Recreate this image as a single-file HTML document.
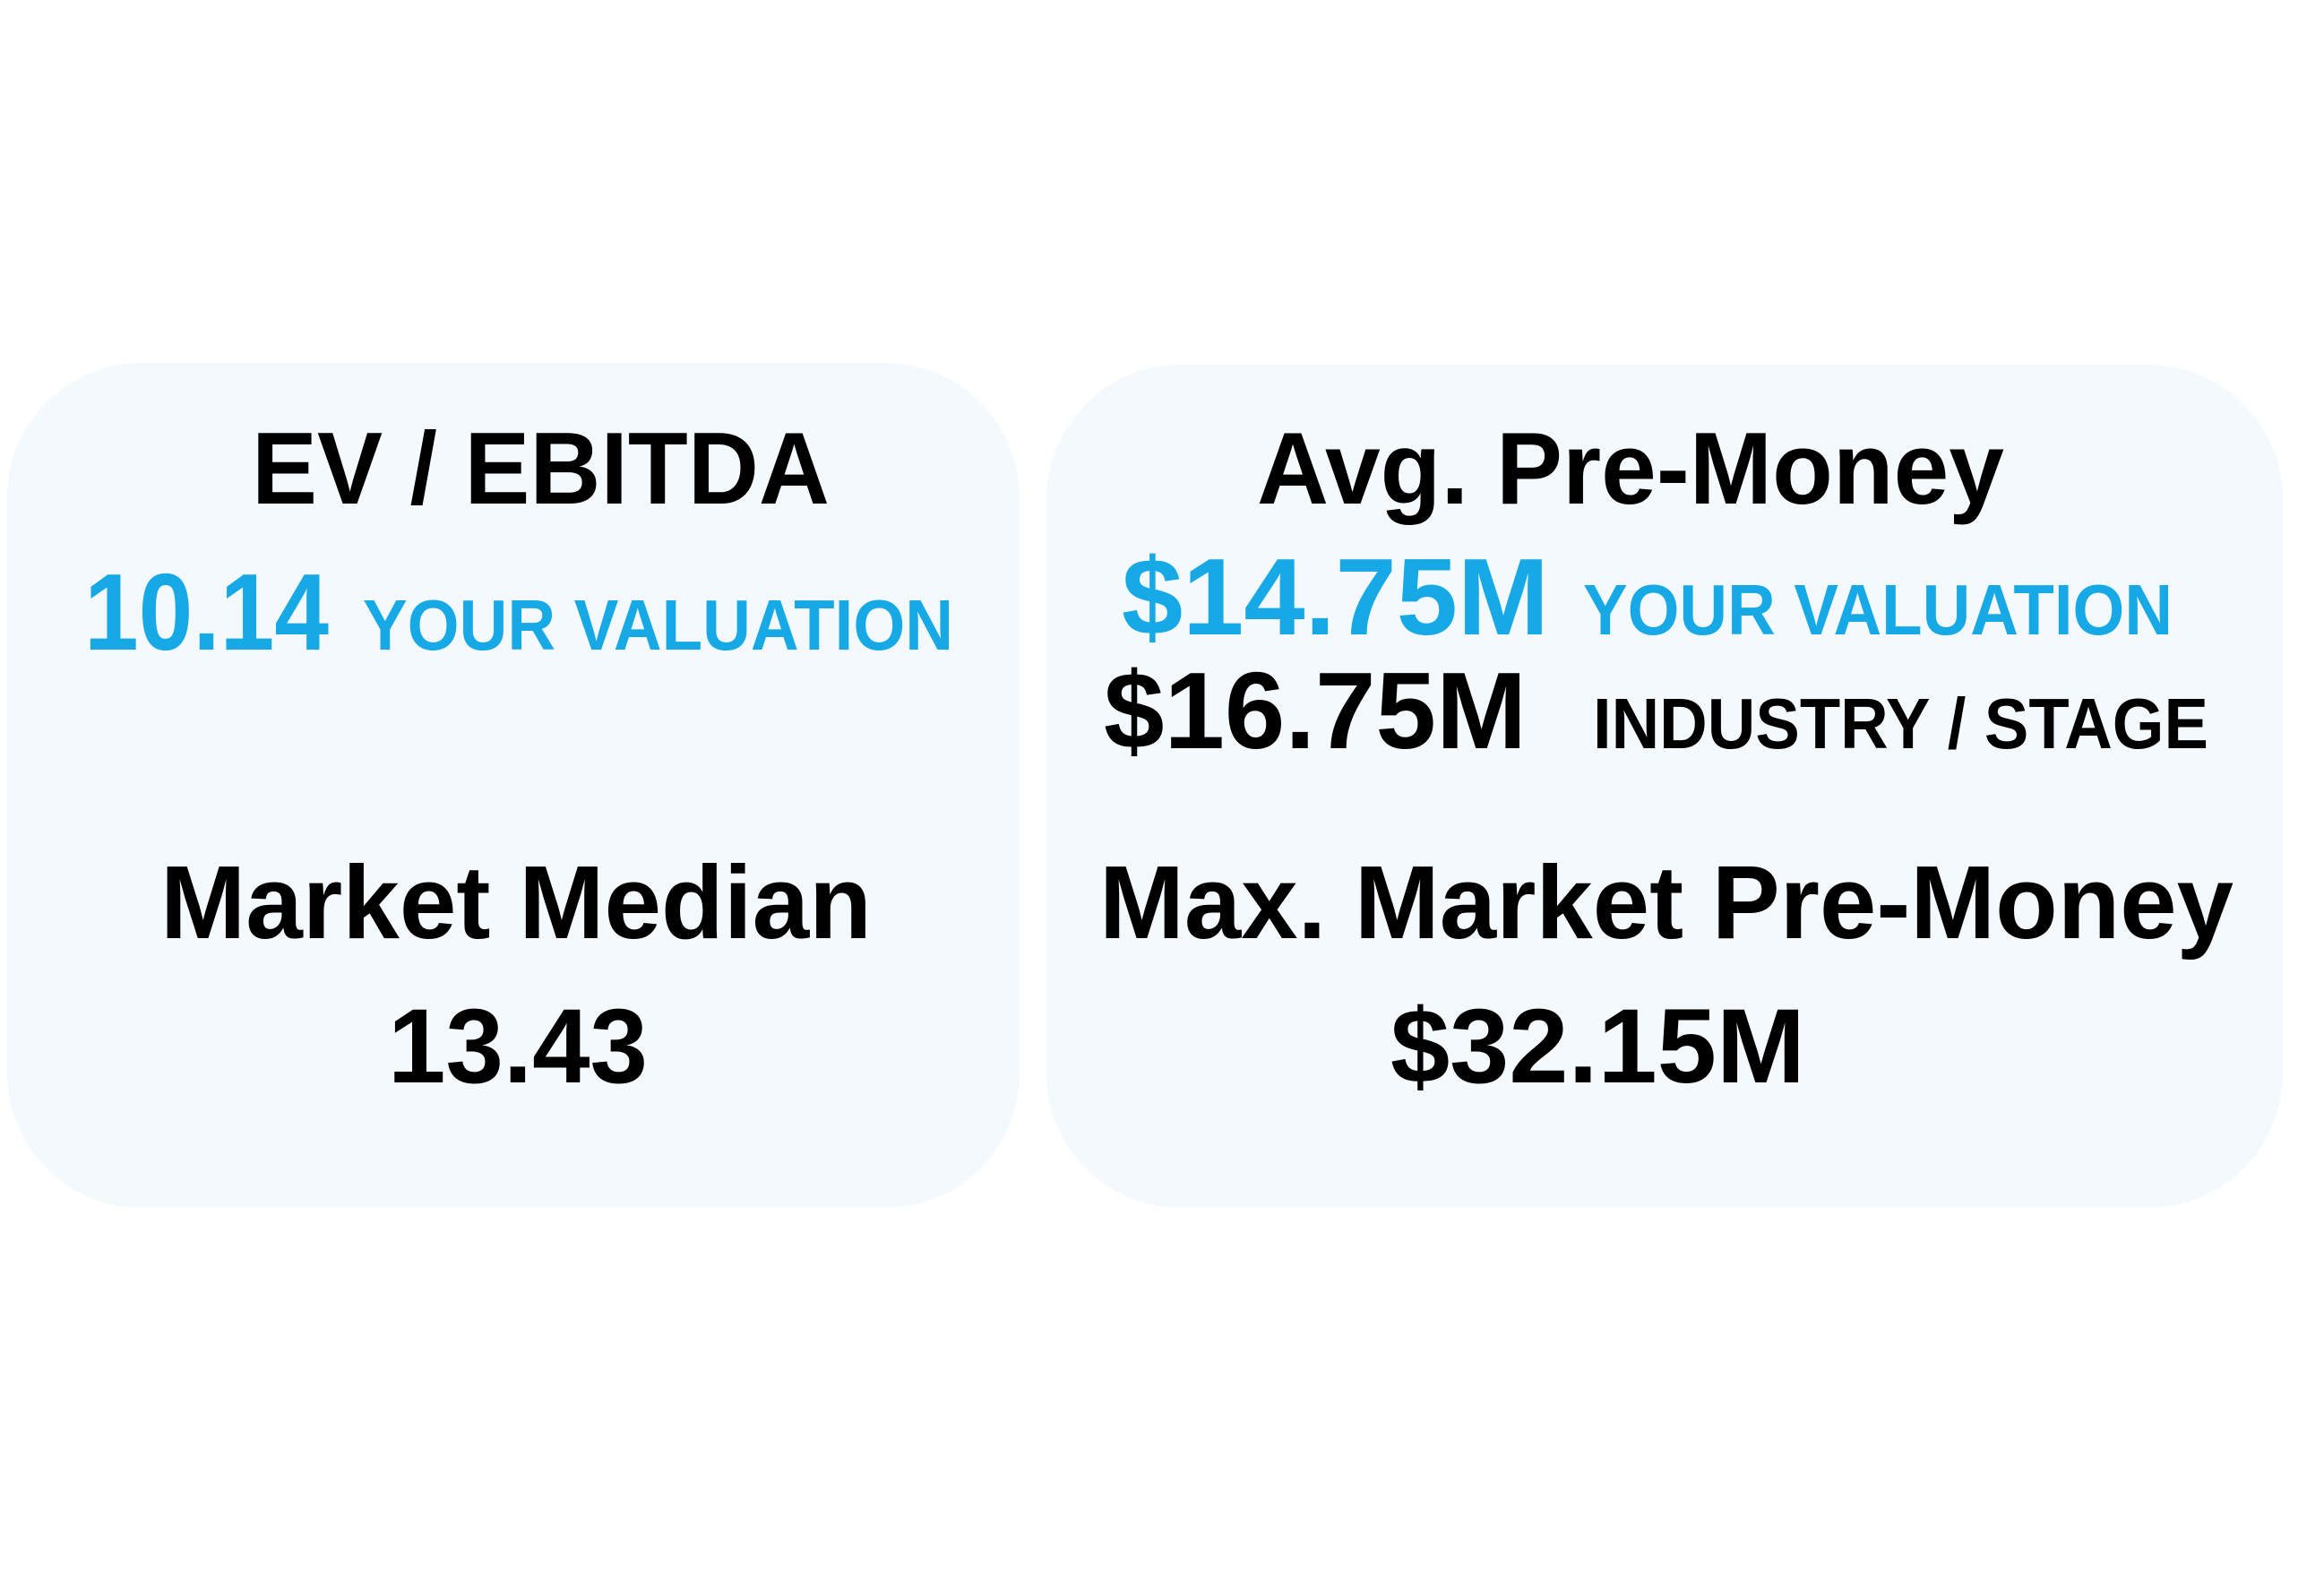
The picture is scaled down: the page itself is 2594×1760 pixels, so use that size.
<!DOCTYPE html>
<html><head><meta charset="utf-8"><style>
html,body{margin:0;padding:0;background:#fff;}
svg{display:block;}
text{font-family:"Liberation Sans",sans-serif;font-weight:bold;}
</style></head><body>
<svg width="2594" height="1760" viewBox="0 0 2594 1760">
<rect x="0" y="0" width="2594" height="1760" fill="#ffffff"/>
<g>
<rect x="8" y="405" width="1130" height="943" rx="150" ry="150" fill="#f4f9fd"/>
<text x="281" y="562" font-size="114" fill="#000" textLength="645" lengthAdjust="spacingAndGlyphs">EV / EBITDA</text>
<text x="94" y="725" font-size="122" fill="#17a9e6" textLength="273" lengthAdjust="spacingAndGlyphs">10.14</text>
<text x="405" y="725" font-size="80" fill="#17a9e6" textLength="659" lengthAdjust="spacingAndGlyphs">YOUR VALUATION</text>
<text x="179" y="1047" font-size="116" fill="#000" textLength="794" lengthAdjust="spacingAndGlyphs">Market Median</text>
<text x="433" y="1208" font-size="118" fill="#000" textLength="290" lengthAdjust="spacingAndGlyphs">13.43</text>
</g>
<g>
<rect x="1168" y="407" width="1380" height="941" rx="150" ry="150" fill="#f4f9fd"/>
<text x="1403" y="562" font-size="114" fill="#000" textLength="834" lengthAdjust="spacingAndGlyphs">Avg. Pre-Money</text>
<text x="1252" y="708" font-size="122" fill="#17a9e6" textLength="477" lengthAdjust="spacingAndGlyphs">$14.75M</text>
<text x="1767" y="708" font-size="80" fill="#17a9e6" textLength="658" lengthAdjust="spacingAndGlyphs">YOUR VALUATION</text>
<text x="1232" y="835" font-size="122" fill="#000" textLength="472" lengthAdjust="spacingAndGlyphs">$16.75M</text>
<text x="1778" y="835" font-size="80" fill="#000" textLength="687" lengthAdjust="spacingAndGlyphs">INDUSTRY / STAGE</text>
<text x="1227" y="1047" font-size="116" fill="#000" textLength="1266" lengthAdjust="spacingAndGlyphs">Max. Market Pre-Money</text>
<text x="1552" y="1208" font-size="118" fill="#000" textLength="463" lengthAdjust="spacingAndGlyphs">$32.15M</text>
</g>
</svg>
</body></html>
